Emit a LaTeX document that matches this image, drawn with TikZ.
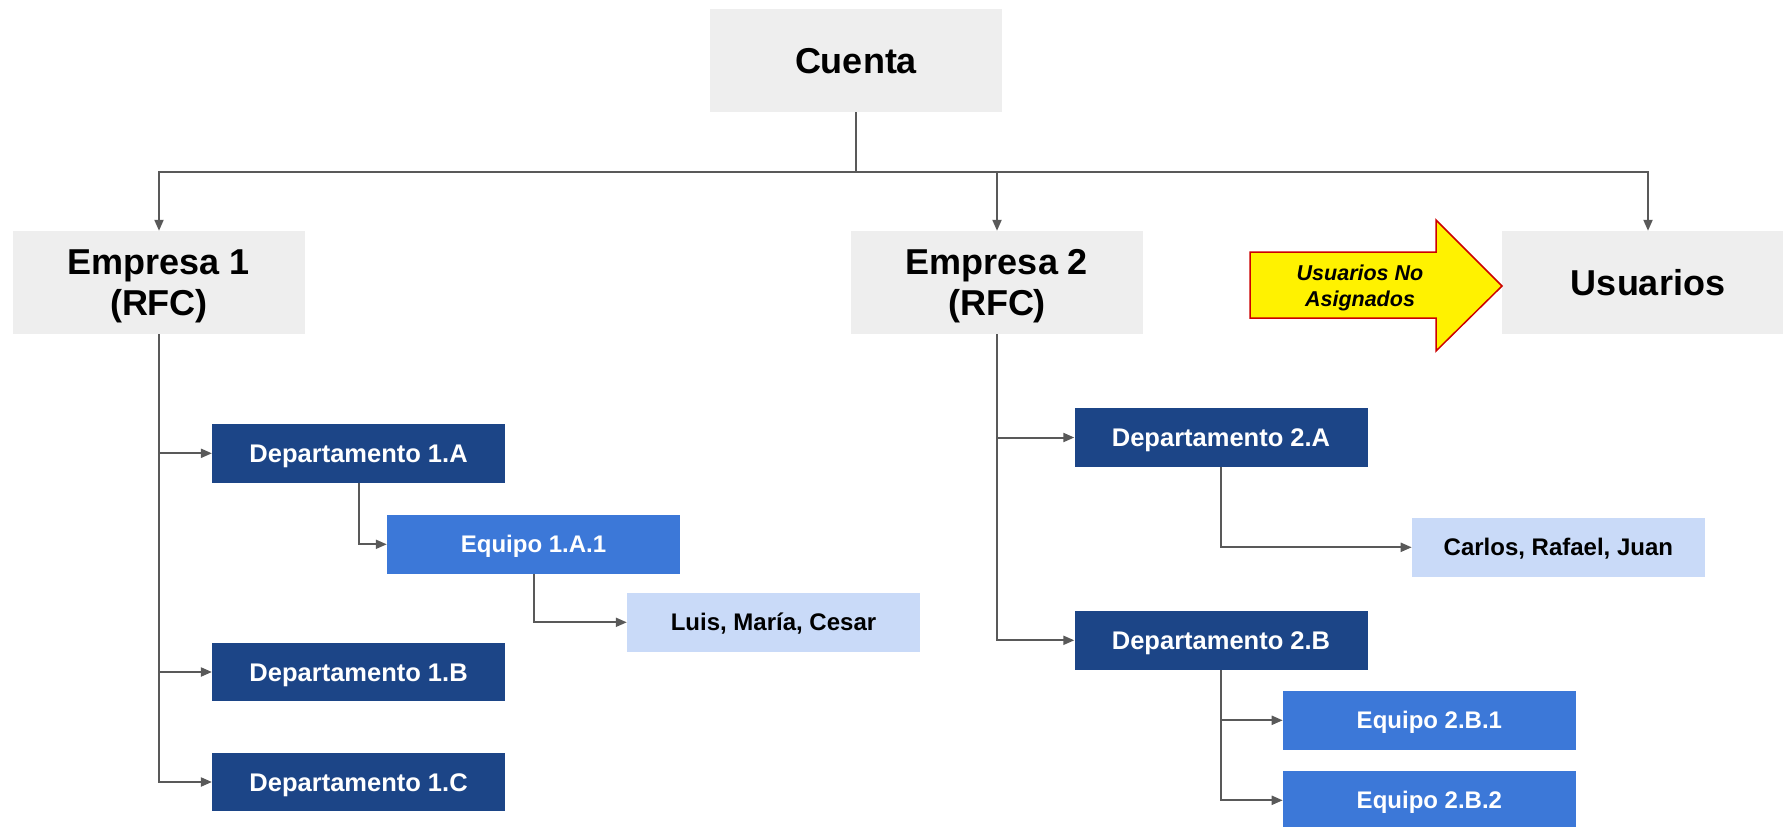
\documentclass[tikz,border=0pt]{standalone}
\usepackage{fontspec}
\setmainfont{Liberation Sans}
\usetikzlibrary{arrows.meta}
\definecolor{boxgray}{HTML}{EEEEEE}
\definecolor{deptblue}{HTML}{1C4587}
\definecolor{teamblue}{HTML}{3C78D8}
\definecolor{nameblue}{HTML}{C9DAF8}
\definecolor{linegray}{HTML}{595959}
\definecolor{arrowred}{HTML}{CC0000}
\newcommand{\twolines}[2]{\begin{tabular}[b]{@{}c@{}}#1\\#2\end{tabular}}
\tikzset{
  top/.style={fill=boxgray, minimum width=292pt, minimum height=103pt, inner sep=0pt,
    text height=25.8pt, text depth=0pt,
    font=\bfseries\fontsize{36}{41}\selectfont},
  toptwo/.style={top, text height=66.5pt},
  dept/.style={fill=deptblue, text=white, minimum width=293pt, minimum height=58.5pt, inner sep=0pt,
    text height=18.3pt, text depth=0pt,
    font=\bfseries\fontsize{25.5}{30}\selectfont},
  team/.style={fill=teamblue, text=white, minimum width=293pt, minimum height=58.5pt, inner sep=0pt,
    text height=17.2pt, text depth=0pt,
    font=\bfseries\fontsize{24}{28}\selectfont},
  people/.style={team, fill=nameblue, text=black},
  conn/.style={draw=linegray, line width=2pt},
  arr/.style={conn, -{Triangle[length=11pt,width=9pt]}},
}
\begin{document}
\begin{tikzpicture}[x=1pt,y=-1pt]
\useasboundingbox (0,0) rectangle (1783,827);
\fill[white] (0,0) rectangle (1783,827);
% nodes
\node[top] (cuenta) at (856,60.5) {Cuenta};
\node[toptwo] (e1) at (159,282.5) {\twolines{Empresa 1}{(RFC)}};
\node[toptwo] (e2) at (997,282.5) {\twolines{Empresa 2}{(RFC)}};
\node[top] (usu) at (1648,282.5) {Usuarios};
\node[dept] (d1a) at (358.6,453.3) {Departamento 1.A};
\node[team] (t1a1) at (533.5,544.3) {Equipo 1.A.1};
\node[people] (p1) at (773.5,622.3) {Luis, María, Cesar};
\node[dept] (d1b) at (358.6,672) {Departamento 1.B};
\node[dept] (d1c) at (358.6,782) {Departamento 1.C};
\node[dept] (d2a) at (1221,437.5) {Departamento 2.A};
\node[people] (p2) at (1558.4,547.3) {Carlos, Rafael, Juan};
\node[dept] (d2b) at (1221,640.3) {Departamento 2.B};
\node[team] (t2b1) at (1429.4,720.3) {Equipo 2.B.1};
\node[team] (t2b2) at (1429.4,800.3) {Equipo 2.B.2};
% bus
\coordinate (bus) at (856,172);
\draw[conn] (cuenta.south) -- (bus);
\draw[arr] (bus) -| (e1.north);
\draw[arr] (bus) -| (e2.north);
\draw[arr] (bus) -| (usu.north);
% empresa 1
\draw[arr] (e1.south) |- (d1a.west);
\draw[arr] (e1.south) |- (d1b.west);
\draw[arr] (e1.south) |- (d1c.west);
\draw[arr] (d1a.south) |- (t1a1.west);
\draw[arr] (t1a1.south) |- (p1.west);
% empresa 2
\draw[arr] (e2.south) |- (d2a.west);
\draw[arr] (e2.south) |- (d2b.west);
\draw[arr] (d2a.south) |- (p2.west);
\draw[arr] (d2b.south) |- (t2b1.west);
\draw[arr] (d2b.south) |- (t2b2.west);
% yellow arrow
\draw[fill=yellow, draw=arrowred, line width=1.5pt, line join=miter]
  (1250,252) -- (1436,252) -- (1436,220) -- (1502,286) -- (1436,351) -- (1436,318) -- (1250,318) -- cycle;
\node[anchor=base, inner sep=0pt, font=\bfseries\itshape\fontsize{21.5}{26}\selectfont] (nota) at (1360,306) {\twolines{Usuarios No}{Asignados}};
\end{tikzpicture}
\end{document}
